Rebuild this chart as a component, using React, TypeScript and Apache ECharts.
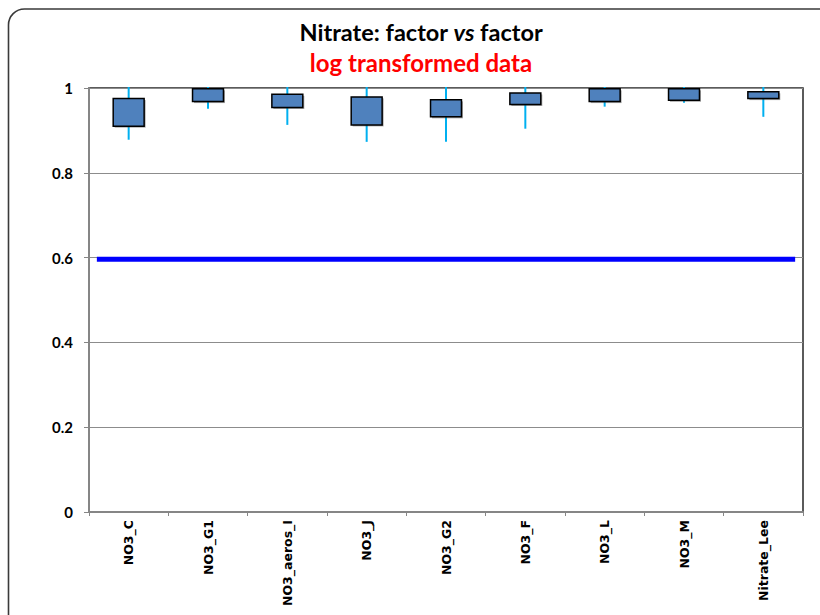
import React, { useEffect, useRef } from "react";
import * as echarts from "echarts";

const categories = ["NO3_C", "NO3_G1", "NO3_aeros_I", "NO3_J", "NO3_G2", "NO3_F", "NO3_L", "NO3_M", "Nitrate_Lee"];
const whiskerLow = [0.878, 0.951, 0.913, 0.873, 0.873, 0.904, 0.956, 0.965, 0.932];
const boxLow = [0.910, 0.968, 0.954, 0.913, 0.932, 0.961, 0.968, 0.971, 0.975];
const boxHigh = [0.975, 0.998, 0.985, 0.979, 0.972, 0.988, 0.998, 0.998, 0.991];
const whiskerHigh = [1, 1, 1, 1, 1, 1, 1, 1, 1];
const yTicks = [0, 0.2, 0.4, 0.6, 0.8, 1];
const refLineValue = 0.596;
const refLineSpan = [0.011, 0.989];

export default function App() {
  const ref = useRef<HTMLDivElement>(null);
  useEffect(() => {
    if (!ref.current) return;
    const chart = echarts.init(ref.current, null, { renderer: "svg" });
    const boxData = categories.map((_, i) => [i, whiskerLow[i], boxLow[i], boxHigh[i], whiskerHigh[i]]);
    chart.setOption({
      animation: false,
      backgroundColor: "#ffffff",
      title: [
        {
          text: "{a|Nitrate: factor }{b|vs}{a| factor}",
          left: 416,
          textAlign: "center",
          top: 15,
          textStyle: {
            rich: {
              a: { fontFamily: "Lato", fontWeight: "bold", fontSize: 23.5, color: "#000" },
              b: { fontFamily: "Lato", fontWeight: "bold", fontStyle: "italic", fontSize: 23.5, color: "#000" },
            },
          },
        },
        {
          text: "log transformed data",
          left: 416,
          textAlign: "center",
          top: 45,
          textStyle: { fontFamily: "Lato", fontWeight: "bold", fontSize: 24, color: "#ff0000" },
        },
      ],
      graphic: [
        {
          type: "rect",
          shape: { x: 8.5, y: 9, width: 840, height: 660, r: 16 },
          style: { fill: "none", stroke: "#3a3a3a", lineWidth: 1.6 },
          silent: true,
        },
      ],
      grid: {
        left: 89,
        right: 17,
        top: 88,
        bottom: 103,
        show: true,
        borderColor: "#262626",
        borderWidth: 1.5,
      },
      xAxis: [
        {
          type: "category",
          data: categories,
          boundaryGap: true,
          axisLine: { lineStyle: { color: "#868686", width: 2 } },
          axisTick: { show: true, length: 4, lineStyle: { color: "#868686" } },
          axisLabel: {
            rotate: 90,
            interval: 0,
            margin: 8,
            fontFamily: "DejaVu Sans",
            fontWeight: "bold",
            fontSize: 12.5,
            color: "#000",
          },
          splitLine: { show: false },
        },
        { type: "value", min: 0, max: 1, show: false },
      ],
      yAxis: {
        type: "value",
        min: yTicks[0],
        max: yTicks[yTicks.length - 1],
        interval: 0.2,
        axisLine: { show: true, lineStyle: { color: "#868686", width: 2 } },
        axisTick: { show: true, length: 5, lineStyle: { color: "#868686" } },
        axisLabel: {
          margin: 16,
          fontFamily: "Lato",
          fontWeight: "bold",
          fontSize: 15,
          color: "#000",
          formatter: (v: number) => String(Math.round(v * 10) / 10),
        },
        splitLine: { show: true, lineStyle: { color: "#8c8c8c", width: 1 } },
      },
      series: [
        {
          type: "line",
          xAxisIndex: 1,
          data: [
            [refLineSpan[0], refLineValue],
            [refLineSpan[1], refLineValue],
          ],
          symbol: "none",
          lineStyle: { color: "#0000ff", width: 5 },
          z: 3,
        },
        {
          type: "custom",
          xAxisIndex: 0,
          clip: false,
          data: boxData,
          encode: { x: 0, y: [1, 2, 3, 4] },
          z: 4,
          renderItem: (params: any, api: any) => {
            const x = api.value(0);
            const pLow = api.coord([x, api.value(1)]);
            const pQ1 = api.coord([x, api.value(2)]);
            const pQ3 = api.coord([x, api.value(3)]);
            const pHigh = api.coord([x, api.value(4)]);
            const w = api.size([1, 0])[0] * 0.39;
            const h = pQ1[1] - pQ3[1];
            return {
              type: "group",
              children: [
                {
                  type: "line",
                  shape: { x1: pLow[0], y1: pLow[1], x2: pHigh[0], y2: pHigh[1] - 1 },
                  style: { stroke: "#00b0f0", lineWidth: 2 },
                },
                {
                  type: "rect",
                  shape: { x: pQ3[0] - w / 2 + 1.5, y: pQ3[1] + 1.5, width: w, height: h },
                  style: { fill: "rgba(60,60,60,0.45)" },
                },
                {
                  type: "rect",
                  shape: { x: pQ3[0] - w / 2, y: pQ3[1], width: w, height: h },
                  style: { fill: "#4f81bd", stroke: "#000000", lineWidth: 1.5 },
                },
              ],
            };
          },
        },
      ],
    });
    return () => chart.dispose();
  }, []);
  return (
    <div
      ref={ref}
      style={{ position: "absolute", left: 0, top: 0, width: 820, height: 615 }}
    />
  );
}
